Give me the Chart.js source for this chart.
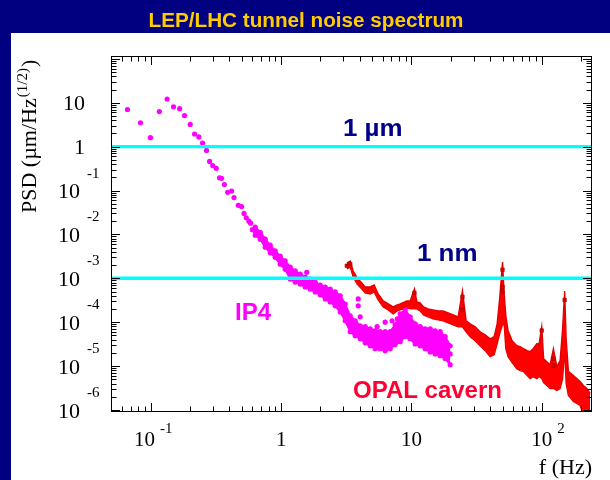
<!DOCTYPE html>
<html><head><meta charset="utf-8">
<script src="https://cdn.jsdelivr.net/npm/chart.js@4.4.1/dist/chart.umd.min.js"></script>
<style>html,body{margin:0;padding:0;background:#fff;overflow:hidden}canvas{display:block}</style>
</head><body>
<canvas id="c" width="610" height="480" style="width:610px;height:480px"></canvas>
<script>
// ---- texts ----
const chartTitle = 'LEP/LHC tunnel noise spectrum';
const xAxisTitle = 'f (Hz)';
const yAxisTitle = ['PSD (\u00b5m/Hz', '(1/2)', ')'];
const refLabels = ['1 \u00b5m', '1 nm'];
const seriesLabels = ['IP4', 'OPAL cavern'];

// ---- axes ----
const xMin = 0.0502, xMax = 239;
const yMin = 9.5e-7, yMax = 110;
const xTickVals = [0.1, 1, 10, 100];
const xTickBase = ['10', '1', '10', '10'];
const xTickExp  = ['-1', '', '', '2'];
const yTickVals = [10, 1, 0.1, 0.01, 1e-3, 1e-4, 1e-5, 1e-6];
const yTickBase = ['10', '1', '10', '10', '10', '10', '10', '10'];
const yTickExp  = ['', '', '-1', '-2', '-3', '-4', '-5', '-6'];

// ---- reference levels (1 um, 1 nm) ----
const refLevels = [1, 1e-3];

// ---- IP4: isolated low-frequency points ----
const ip4SparseF = [0.066,0.083,0.099,0.116,0.133,0.149,0.166,0.181,0.200,0.216,0.233,0.249,0.267,0.282,0.298,0.317,0.336,0.348,0.366,0.388,0.416,0.434,0.468,0.496,0.518,0.539,0.565,0.582,0.600];
const ip4SparseV = [7.0,3.5,1.6,6.3,12.1,8.1,7.3,5.1,3.2,1.94,1.66,1.21,0.82,0.46,0.37,0.32,0.195,0.19,0.137,0.091,0.097,0.069,0.046,0.043,0.030,0.024,0.020,0.018,0.0128];

// ---- IP4: dense band (upper / middle / lower) ----
const ip4BandF  = [0.632,0.690,0.754,0.823,0.899,0.982,1.073,1.172,1.281,1.399,1.528,1.670,1.824,1.993,2.177,2.378,2.597,2.837,3.099,3.385,3.698,4.040,4.412,4.820,5.265,5.751,6.283,6.863,7.497,8.19,8.95,9.77,10.67,11.66,12.74,13.92,15.20,16.61,18.14,19.82];
const ip4BandHi = [0.0146,0.0112,0.0078,0.0057,0.0042,0.0032,0.0025,0.0018,0.00147,0.00125,0.00107,9.6e-4,8.2e-4,7.05e-4,6.35e-4,5.7e-4,4.9e-4,4.0e-4,2.6e-4,1.4e-4,1.08e-4,8.3e-5,7.9e-5,7.1e-5,6.4e-5,6.1e-5,6.1e-5,6.1e-5,8.7e-5,1.55e-4,1.9e-4,1.33e-4,9.2e-5,7.9e-5,7.1e-5,7.1e-5,6.4e-5,6.1e-5,4.7e-5,2.9e-5];
const ip4BandMid= [0.0118,0.0096,0.0063,0.0046,0.0036,0.0026,0.0020,0.0013,0.00113,9.6e-4,8.2e-4,7.4e-4,6.35e-4,5.4e-4,4.64e-4,4.2e-4,3.4e-4,2.6e-4,1.72e-4,9.2e-5,7.1e-5,5.75e-5,5.2e-5,4.7e-5,4.0e-5,4.0e-5,3.6e-5,4.0e-5,5.2e-5,7.5e-5,9.2e-5,7.5e-5,5.45e-5,4.9e-5,4.2e-5,4.0e-5,3.6e-5,3.2e-5,2.8e-5,1.9e-5];
const ip4BandLo = [0.0096,0.0078,0.0051,0.0038,0.0030,0.0021,0.0016,9.6e-4,8.2e-4,7.4e-4,6.35e-4,5.7e-4,4.9e-4,4.2e-4,3.4e-4,2.9e-4,2.36e-4,1.72e-4,1.08e-4,6.1e-5,4.9e-5,4.2e-5,3.4e-5,2.9e-5,2.5e-5,2.5e-5,2.25e-5,2.5e-5,3.1e-5,3.6e-5,4.7e-5,4.2e-5,3.2e-5,2.9e-5,2.5e-5,2.1e-5,1.9e-5,1.73e-5,1.5e-5,1.08e-5];

// ---- IP4: scattered extra points ----
const ip4ExtraF = [1.57,3.9,3.9,4.04,5.45,6.28,7.1,7.8];
const ip4ExtraV = [1.37e-3,3.4e-4,2.36e-4,1.33e-4,7.9e-5,1.0e-4,1.08e-4,1.19e-4];

// ---- OPAL cavern: band (upper / lower envelope incl. error bars) ----
const opalF  = [3.19,3.39,3.57,3.83,4.16,4.41,4.82,5.17,5.55,6.07,6.63,7.24,7.77,8.19,9.22,9.77,10.54,11.0,11.66,12.37,13.43,14.67,16.03,17.51,19.13,20.89,22.83,24.63,26.29,28.22,30.83,33.67,36.78,40.18,43.13,45.48,47.53,50,51.5,53,55.2,59.3,64.4,68.3,72.4,77.3,81.5,85.9,91.7,95.5,100,103.4,109.4,116,123,130.6,138.4,144.7,150,154,160.3,168.1,175.1,185.9,197.1,208.9,221.9,235.2];
const opalHi = [2.22e-3,2.47e-3,1.47e-3,1.02e-3,7.82e-4,6.35e-4,6.35e-4,7.05e-4,4.41e-4,3.06e-4,2.61e-4,2.23e-4,2.48e-4,2.61e-4,3.06e-4,3.06e-4,5.72e-4,2.90e-4,2.75e-4,2.23e-4,2.01e-4,1.91e-4,1.81e-4,1.81e-4,1.63e-4,1.47e-4,1.33e-4,5.15e-4,1.08e-4,9.19e-5,7.87e-5,6.06e-5,5.18e-5,4.20e-5,4.67e-5,9.19e-5,3.39e-4,2.34e-3,4.41e-4,1.40e-4,6.38e-5,3.79e-5,2.92e-5,2.77e-5,2.49e-5,2.25e-5,2.13e-5,2.49e-5,3.24e-5,3.24e-5,7.87e-5,1.48e-5,1.26e-5,1.08e-5,2.49e-5,9.75e-6,1.33e-5,7.08e-5,5.15e-4,4.2e-5,7.51e-6,6.76e-6,6.09e-6,5.21e-6,4.46e-6,3.61e-6,3.09e-6,2.38e-6];
const opalLo = [1.63e-3,1.80e-3,1.07e-3,7.43e-4,5.72e-4,4.64e-4,4.41e-4,4.89e-4,3.22e-4,2.23e-4,1.91e-4,1.55e-4,1.81e-4,1.91e-4,2.12e-4,2.01e-4,2.01e-4,2.01e-4,1.81e-4,1.47e-4,1.33e-4,1.19e-4,1.13e-4,1.08e-4,9.7e-5,8.73e-5,7.87e-5,7.87e-5,6.06e-5,4.67e-5,3.79e-5,2.92e-5,2.25e-5,1.64e-5,1.82e-5,3.24e-5,5.45e-5,8.7e-5,9.19e-5,2.49e-5,1.64e-5,1.20e-5,8.77e-6,7.91e-6,7.51e-6,6.09e-6,5.21e-6,5.78e-6,5.21e-6,5.78e-6,5.21e-6,4.23e-6,3.61e-6,3.09e-6,3.09e-6,2.78e-6,3.09e-6,5.21e-6,2.5e-5,4.01e-6,2.14e-6,1.83e-6,1.57e-6,1.41e-6,1.27e-6,8e-7,8e-7,8e-7];

// ---- OPAL cavern: highlighted points ----
const opalMarkF = [3.19,3.39,10.54,24.63,24.63,50,50,50,100,123,123,150];
const opalMarkV = [1.93e-3,2.1e-3,4.64e-4,3.77e-4,1.91e-4,1.57e-3,6.35e-4,4.89e-4,6.48e-5,1.48e-5,1.03e-5,3.22e-4];

// ---- build datasets ----
const pts = (fs, vs) => fs.map((f, i) => ({x: f, y: vs[i]}));
const MAG = '#FF00FF', RED = '#FF0000', CYAN = '#00FFFF';
const SERIF = '"Liberation Serif", "Times New Roman", serif';
const SANS = '"Liberation Sans", Arial, sans-serif';

const datasets = [];
refLevels.forEach(v => datasets.push({data: pts([xMin, xMax], [v, v]), borderColor: CYAN, borderWidth: 3.4, pointRadius: 0, showLine: true, fill: false, order: 0, clip: 0}));
datasets.push({data: pts(ip4SparseF, ip4SparseV), showLine: false, pointRadius: 2.6, pointBackgroundColor: MAG, pointBorderWidth: 0, order: 1, clip: 0});
datasets.push({data: pts(ip4ExtraF, ip4ExtraV), showLine: false, pointRadius: 2.6, pointBackgroundColor: MAG, pointBorderWidth: 0, order: 1, clip: 0});
datasets.push({data: pts(ip4BandF, ip4BandMid), showLine: false, pointRadius: 2.6, pointBackgroundColor: MAG, pointBorderWidth: 0, order: 1, clip: 0});
datasets.push({data: pts(ip4BandF, ip4BandHi), showLine: true, borderColor: MAG, borderWidth: 2, pointRadius: 2.6, pointBackgroundColor: MAG, pointBorderWidth: 0, fill: '+1', backgroundColor: MAG, order: 2, clip: 0});
datasets.push({data: pts(ip4BandF, ip4BandLo), showLine: true, borderColor: MAG, borderWidth: 2, pointRadius: 2.6, pointBackgroundColor: MAG, pointBorderWidth: 0, fill: false, order: 2, clip: 0});
datasets.push({data: pts(opalMarkF, opalMarkV), showLine: false, pointRadius: 2.5, pointStyle: 'rect', pointBackgroundColor: '#E00000', pointBorderColor: '#A00000', pointBorderWidth: 0.6, order: 3, clip: 0});
datasets.push({data: pts(opalF, opalHi), showLine: true, borderColor: '#E40000', borderWidth: 1.4, pointRadius: 0, fill: '+1', backgroundColor: RED, order: 4, clip: 0});
datasets.push({data: pts(opalF, opalLo), showLine: true, borderColor: '#E40000', borderWidth: 1.4, pointRadius: 0, fill: false, order: 4, clip: 0});

function line(ctx, x1, y1, x2, y2) { ctx.beginPath(); ctx.moveTo(x1, y1); ctx.lineTo(x2, y2); ctx.stroke(); }

const deco = {
  id: 'deco',
  beforeDraw(chart) {
    const ctx = chart.ctx;
    ctx.save();
    ctx.fillStyle = '#FFFFFF'; ctx.fillRect(0, 0, 610, 480);
    ctx.fillStyle = '#000080'; ctx.fillRect(0, 0, 610, 33); ctx.fillRect(0, 0, 11, 480);
    ctx.fillStyle = '#FFCC00';
    ctx.font = 'bold 20.7px ' + SANS;
    ctx.textAlign = 'center'; ctx.textBaseline = 'alphabetic';
    ctx.fillText(chartTitle, 306, 27);
    ctx.restore();
  },
  afterDraw(chart) {
    const ctx = chart.ctx, a = chart.chartArea, xs = chart.scales.x, ys = chart.scales.y;
    ctx.save();
    ctx.strokeStyle = '#000'; ctx.lineWidth = 1;
    ctx.strokeRect(Math.round(a.left) - 0.5, Math.round(a.top) - 0.5, Math.round(a.right - a.left) + 1, Math.round(a.bottom - a.top) + 1);
    // x ticks (inside, bottom and top)
    for (let e = -2; e <= 2; e++) for (let k = 1; k <= 9; k++) {
      const v = k * Math.pow(10, e);
      if (v < xs.min || v > xs.max) continue;
      const px = Math.round(xs.getPixelForValue(v)) + 0.5, len = k === 1 ? 8 : 4.5;
      line(ctx, px, a.bottom, px, a.bottom - len);
      line(ctx, px, a.top, px, a.top + len);
    }
    // y ticks (inside, left and right)
    for (let e = -7; e <= 2; e++) for (let k = 1; k <= 9; k++) {
      const v = k * Math.pow(10, e);
      if (v < ys.min || v > ys.max) continue;
      const py = Math.round(ys.getPixelForValue(v)) + 0.5, len = k === 1 ? 8 : 4.5;
      line(ctx, a.left, py, a.left + len, py);
      line(ctx, a.right, py, a.right - len, py);
    }
    ctx.fillStyle = '#000'; ctx.textBaseline = 'alphabetic';
    // x tick labels
    xTickVals.forEach((v, i) => {
      const px = xs.getPixelForValue(v);
      ctx.font = '21px ' + SERIF;
      const w = ctx.measureText(xTickBase[i]).width;
      let cx = px;
      if (xTickExp[i] && xTickExp[i][0] === '-') cx = px - 6.5;
      ctx.textAlign = 'center';
      ctx.fillText(xTickBase[i], cx, 446);
      if (xTickExp[i]) {
        ctx.font = '15px ' + SERIF; ctx.textAlign = 'left';
        ctx.fillText(xTickExp[i], cx + w / 2 + 5, 433);
      }
    });
    // y tick labels
    yTickVals.forEach((v, i) => {
      const py = ys.getPixelForValue(v);
      ctx.font = '22px ' + SERIF; ctx.textAlign = 'right';
      if (yTickExp[i]) {
        ctx.fillText(yTickBase[i], 80, py + 7.5);
        ctx.font = '15px ' + SERIF; ctx.textAlign = 'left';
        ctx.fillText(yTickExp[i], 87, py - 13);
      } else {
        ctx.fillText(yTickBase[i], 85, py + 7.5);
      }
    });
    // axis titles
    ctx.font = '22px ' + SERIF; ctx.textAlign = 'right';
    ctx.fillText(xAxisTitle, 592, 474);
    ctx.save();
    ctx.translate(36, 213); ctx.rotate(-Math.PI / 2);
    ctx.textAlign = 'left';
    ctx.font = '22px ' + SERIF;
    ctx.fillText(yAxisTitle[0], 0, 0);
    let w = ctx.measureText(yAxisTitle[0]).width + 1;
    ctx.font = '15px ' + SERIF;
    ctx.fillText(yAxisTitle[1], w, -9);
    w += ctx.measureText(yAxisTitle[1]).width + 1;
    ctx.font = '22px ' + SERIF;
    ctx.fillText(yAxisTitle[2], w, 0);
    ctx.restore();
    // annotation texts
    ctx.textAlign = 'left';
    ctx.font = 'bold 24px ' + SANS;
    ctx.fillStyle = '#00008B';
    [[343, 135.5], [417, 261]].forEach((p, i) => {
      ctx.save(); ctx.translate(p[0], p[1]); ctx.scale(1.08, 1);
      ctx.fillText(refLabels[i], 0, 0); ctx.restore();
    });
    ctx.fillStyle = MAG; ctx.fillText(seriesLabels[0], 235, 320);
    ctx.fillStyle = '#FF0033'; ctx.fillText(seriesLabels[1], 353, 397.5);
    ctx.restore();
  }
};

new Chart(document.getElementById('c'), {
  type: 'line',
  data: {datasets},
  options: {
    responsive: false,
    animation: false,
    events: [],
    layout: {padding: {left: 112, top: 57, right: 19, bottom: 69}},
    plugins: {legend: {display: false}, tooltip: {enabled: false}, title: {display: false}},
    scales: {
      x: {type: 'logarithmic', min: xMin, max: xMax, display: false},
      y: {type: 'logarithmic', min: yMin, max: yMax, display: false}
    }
  },
  plugins: [deco]
});
</script>
</body></html>
